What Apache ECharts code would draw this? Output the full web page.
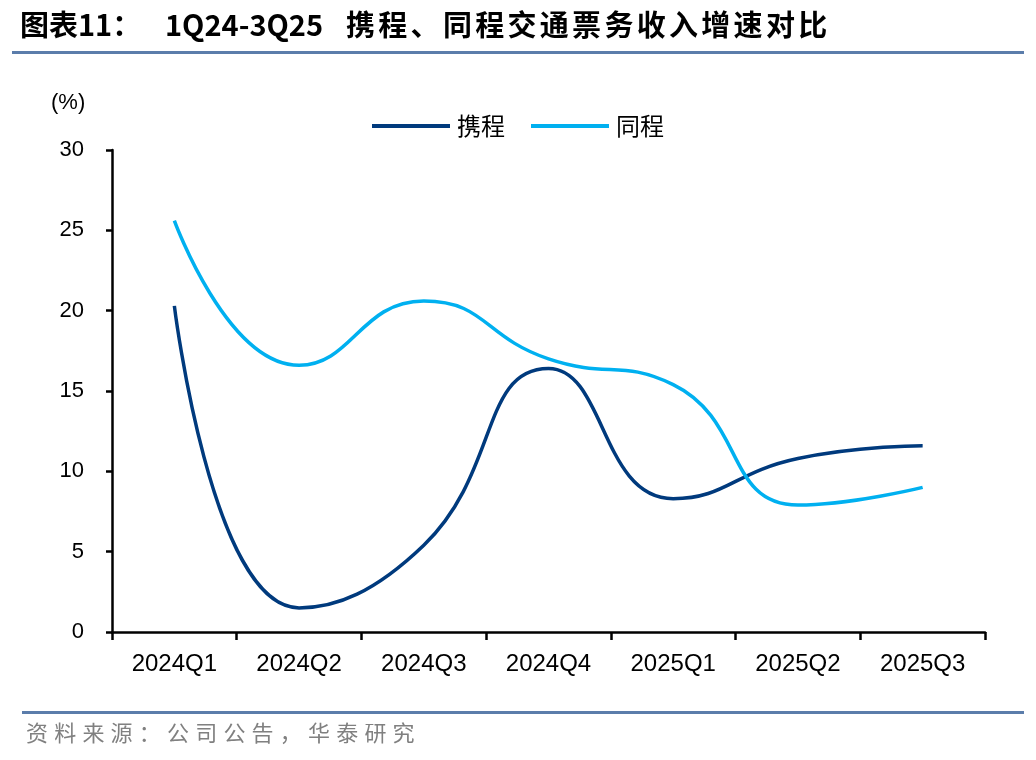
<!DOCTYPE html>
<html><head><meta charset="utf-8">
<script src="https://cdn.jsdelivr.net/npm/echarts@6/dist/echarts.min.js"></script>
<style>html,body{margin:0;padding:0;background:#fff}#c{width:1036px;height:760px}</style>
</head><body><div id="c"></div>
<script>
const categories = ['2024Q1','2024Q2','2024Q3','2024Q4','2025Q1','2025Q2','2025Q3'];
const ctrip = [20.3, 1.5, 5.4, 16.4, 8.3, 10.8, 11.6];
const tongcheng = [25.6, 16.6, 20.6, 17.0, 15.4, 7.9, 9.0];
const seriesNames = ['携程', '同程'];
const yTicks = [0, 5, 10, 15, 20, 25, 30];
const titleHead = '图表11：';
const titleCode = '1Q24-3Q25';
const titleText = '携程、同程交通票务收入增速对比';
const sourceText = '资料来源：公司公告，华泰研究';

const chart = echarts.init(document.getElementById('c'));
const cjk = '"Noto Sans CJK SC", sans-serif';
const latin = '"Liberation Sans", Arial, sans-serif';

const graphics = [
  {type: 'text', left: 20, top: 10, style: {text: titleHead, font: 'bold 29px "Noto Sans CJK SC", sans-serif', fill: '#000'}},
  {type: 'text', left: 165, top: 10, style: {text: titleCode, font: 'bold 29px "Noto Sans CJK SC", sans-serif', fill: '#000'}},
  {type: 'rect', shape: {x: 12, y: 51, width: 1012, height: 3}, style: {fill: '#5B7DAB'}},
  {type: 'rect', shape: {x: 22, y: 711, width: 1002, height: 3}, style: {fill: '#5B7DAB'}},
  {type: 'text', left: 51, top: 92, style: {text: '(%)', font: '22px "Liberation Sans", Arial, sans-serif', fill: '#000'}}
];
Array.from(titleText).forEach((ch, i) => {
  graphics.push({type: 'text', left: 346 + i * 32.3, top: 10, style: {text: ch, font: 'bold 29px "Noto Sans CJK SC", sans-serif', fill: '#000'}});
});
Array.from(sourceText).forEach((ch, i) => {
  graphics.push({type: 'text', left: 26 + i * 28.2, top: 722, style: {text: ch, font: '22px "Noto Sans CJK SC", sans-serif', fill: '#808080'}});
});

chart.setOption({
  animation: false,
  backgroundColor: '#fff',
  graphic: graphics,
  legend: {
    top: 109, left: 367,
    itemWidth: 78, itemHeight: 4, itemGap: 26,
    icon: 'rect',
    textStyle: {fontFamily: cjk, fontSize: 24, color: '#000', padding: [0, 0, 0, 2]},
    data: seriesNames
  },
  grid: {left: 112, right: 51, top: 150, bottom: 128, containLabel: false},
  xAxis: {
    type: 'category', data: categories, boundaryGap: true,
    axisLine: {lineStyle: {color: '#000', width: 2.5}},
    axisTick: {show: true, length: 8, lineStyle: {color: '#000', width: 2.5}},
    axisLabel: {fontFamily: latin, fontSize: 24, color: '#000', margin: 20}
  },
  yAxis: {
    type: 'value', min: 0, max: 30, interval: 5,
    axisLine: {show: true, lineStyle: {color: '#000', width: 2.5}},
    axisTick: {show: true, length: 6, lineStyle: {color: '#000', width: 2.5}},
    splitLine: {show: false},
    axisLabel: {fontFamily: latin, fontSize: 22, color: '#000', margin: 28}
  },
  series: [
    {name: seriesNames[0], type: 'line', data: ctrip, smooth: 0.5, symbol: 'none',
     lineStyle: {color: '#003A7D', width: 3.5}, itemStyle: {color: '#003A7D'}},
    {name: seriesNames[1], type: 'line', data: tongcheng, smooth: 0.5, symbol: 'none',
     lineStyle: {color: '#00B0F0', width: 3.5}, itemStyle: {color: '#00B0F0'}}
  ]
});
</script></body></html>
